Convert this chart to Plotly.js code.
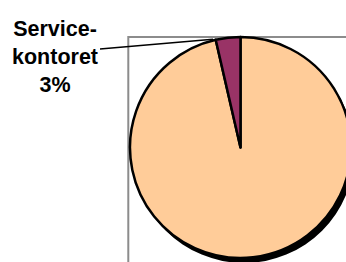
<!DOCTYPE html>
<html>
<head>
<meta charset="utf-8">
<script src="https://cdn.plot.ly/plotly-3.0.1.min.js"></script>
<style>
html,body{margin:0;padding:0;overflow:hidden;background:#fff;width:346px;height:262px;}
#chart{width:380px;height:272px;}
</style>
</head>
<body>
<div id="chart"></div>
<script>
// Data (drawn clockwise from 12 o'clock, so the small slice ends at 12 o'clock)
var categories = ["Övriga", "Service-kontoret"];
var values = [96.4, 3.6];
var sliceColors = ["#FFCC99", "#993366"];
var labelLines = ["Service-", "kontoret"];
var labelPct = "3%";

var W = 380, H = 272;
function px(x){ return x / W; }
function py(y){ return 1 - y / H; }

var cx = 240.5, cy = 147.5, r = 110.5, shx = 3.5, shy = 5;

var shadow = {
  type: "pie",
  values: [1],
  labels: ["shadow"],
  marker: {colors: ["#000000"], line: {width: 0}},
  textinfo: "none",
  hoverinfo: "skip",
  sort: false,
  showlegend: false,
  domain: {x: [px(cx - r + shx), px(cx + r + shx)], y: [py(cy + r + shy), py(cy - r + shy)]}
};

var pie = {
  type: "pie",
  values: values,
  labels: categories,
  marker: {colors: sliceColors, line: {color: "#000000", width: 2.5}},
  textinfo: "none",
  hoverinfo: "label+percent",
  sort: false,
  direction: "clockwise",
  rotation: 0,
  showlegend: false,
  domain: {x: [px(cx - r), px(cx + r)], y: [py(cy + r), py(cy - r)]}
};

var layout = {
  width: W, height: H,
  margin: {l: 0, r: 0, t: 0, b: 0},
  paper_bgcolor: "#ffffff",
  showlegend: false,
  shapes: [
    {type: "rect", xref: "paper", yref: "paper", x0: px(128.3), x1: 1.2, y0: -0.2, y1: py(37),
     line: {color: "#8c8c8c", width: 2}, fillcolor: "rgba(0,0,0,0)", layer: "below"},
    {type: "line", xref: "paper", yref: "paper", x0: px(100), y0: py(49), x1: px(213), y1: py(39.3),
     line: {color: "#000000", width: 1.6}, layer: "above"}
  ],
  annotations: [
    {xref: "paper", yref: "paper", x: px(55), y: py(57), xanchor: "center", yanchor: "middle",
     text: "<b>" + labelLines.join("<br>") + "<br>" + labelPct + "</b>",
     showarrow: false, align: "center",
     font: {family: "Arial, 'Liberation Sans', sans-serif", size: 21.5, color: "#000000"}}
  ]
};

Plotly.newPlot("chart", [shadow, pie], layout, {staticPlot: true, displayModeBar: false});
</script>
</body>
</html>
